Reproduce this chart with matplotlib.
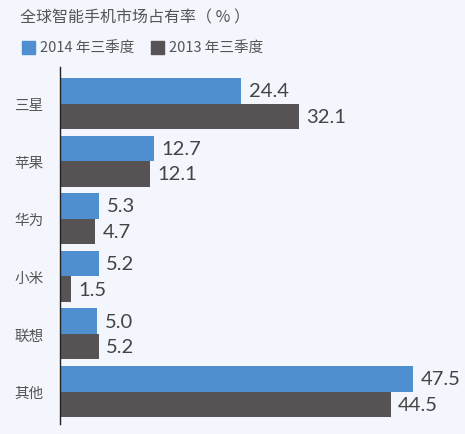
import matplotlib.pyplot as plt
import numpy as np

plt.rcParams['font.family'] = ['Noto Sans CJK SC', 'DejaVu Sans']

brands = ['三星', '苹果', '华为', '小米', '联想', '其他']
share_2014 = [24.4, 12.7, 5.3, 5.2, 5.0, 47.5]
share_2013 = [32.1, 12.1, 4.7, 1.5, 5.2, 44.5]
series_names = ['2014 年三季度', '2013 年三季度']

bg = '#f3f6fc'
blue = '#4f8fcf'
dark = '#575354'
txt = '#444444'

fig = plt.figure(figsize=(4.65, 4.35), dpi=100, facecolor=bg)
ax = fig.add_axes([60 / 465, 1 - 425 / 435, 1 - 60 / 465, 357 / 435])
ax.set_facecolor(bg)

y = np.arange(len(brands))
h = 0.443
ax.barh(y - h / 2, share_2014, height=h, color=blue)
ax.barh(y + h / 2, share_2013, height=h, color=dark)

for i in range(len(brands)):
    ax.text(share_2014[i] + 1.0, y[i] - h / 2, f'{share_2014[i]:.1f}', va='center', ha='left',
            fontsize=14.5, color=txt, family=['Lato', 'DejaVu Sans'])
    ax.text(share_2013[i] + 1.0, y[i] + h / 2, f'{share_2013[i]:.1f}', va='center', ha='left',
            fontsize=14.5, color=txt, family=['Lato', 'DejaVu Sans'])

ax.set_xlim(0, 54.5)
ax.set_ylim(5.564, -0.634)
ax.set_yticks(y)
ax.set_yticklabels(brands, fontsize=10.5, color='#555555')
ax.tick_params(axis='y', length=0, pad=12)
ax.set_xticks([])
for s in ['top', 'right', 'bottom']:
    ax.spines[s].set_visible(False)
ax.spines['left'].set_color('#222222')
ax.spines['left'].set_linewidth(1.0)

fig.text(20 / 465, 1 - 18 / 435, '全球智能手机市场占有率（ % ）', fontsize=11.5, color='#555555', va='center')

# legend
fig.patches.append(plt.Rectangle((22 / 465, 1 - 55 / 435), 13 / 465, 13 / 435,
                                 transform=fig.transFigure, color=blue))
fig.text(40 / 465, 1 - 48.5 / 435, series_names[0], fontsize=10.5, color='#555555', va='center')
fig.patches.append(plt.Rectangle((151 / 465, 1 - 55 / 435), 13 / 465, 13 / 435,
                                 transform=fig.transFigure, color=dark))
fig.text(169 / 465, 1 - 48.5 / 435, series_names[1], fontsize=10.5, color='#555555', va='center')

fig.savefig('out.png', dpi=100, facecolor=bg)
